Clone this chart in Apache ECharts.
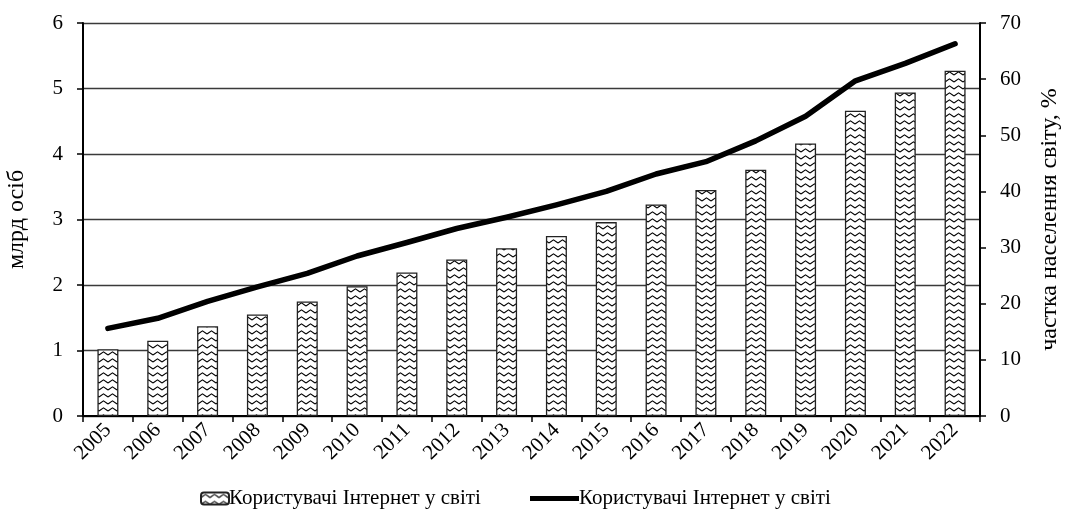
<!DOCTYPE html>
<html>
<head>
<meta charset="utf-8">
<script src="https://cdn.jsdelivr.net/npm/echarts@6/dist/echarts.min.js"></script>
<style>
html,body{margin:0;padding:0;background:#fff;}
#chart{width:1067px;height:516px;}
</style>
</head>
<body>
<div id="chart"></div>
<script>
const years = ['2005','2006','2007','2008','2009','2010','2011','2012','2013','2014','2015','2016','2017','2018','2019','2020','2021','2022'];
const usersBn = [1.02,1.15,1.37,1.55,1.75,1.98,2.19,2.39,2.56,2.75,2.96,3.23,3.45,3.76,4.16,4.66,4.94,5.27];
const sharePct = [15.6,17.4,20.4,23.0,25.4,28.5,30.9,33.4,35.4,37.6,40.0,43.1,45.3,49.0,53.4,59.7,62.8,66.3];
const leftTicks = [0,1,2,3,4,5,6];
const rightTicks = [0,10,20,30,40,50,60,70];
const seriesLabel = 'Користувачі Інтернет у світі';
const leftTitle = 'млрд осіб';
const rightTitle = 'частка населення світу, %';

function makePattern(){
  const c = document.createElement('canvas');
  c.width = 9; c.height = 7;
  const g = c.getContext('2d');
  g.fillStyle = '#fff'; g.fillRect(0,0,9,7);
  g.strokeStyle = '#000'; g.lineWidth = 1.1;
  g.beginPath();
  g.moveTo(0,5); g.lineTo(4.5,1.8); g.lineTo(9,5);
  g.stroke();
  return c;
}
const pattern = {image: makePattern(), repeat: 'repeat'};
const font = 'Liberation Serif, Times New Roman, serif';

const chart = echarts.init(document.getElementById('chart'));
chart.setOption({
  animation: false,
  backgroundColor: '#fff',
  textStyle: {fontFamily: font, color: '#000'},
  grid: {left: 83, right: 87, top: 23, bottom: 100, containLabel: false, outerBoundsMode: 'none'},
  legend: [
    {data: [seriesLabel], left: 195, top: 483, itemWidth: 28, itemHeight: 12, itemGap: 0,
     textStyle: {fontFamily: font, fontSize: 21, color: '#000', padding: [0,0,0,-5]}},
    {data: [seriesLabel + ' '], left: 525, top: 483, itemWidth: 49, itemHeight: 5, icon: 'rect',
     itemStyle: {color: '#000'},
     formatter: function(n){ return n.trim(); },
     textStyle: {fontFamily: font, fontSize: 21, color: '#000', padding: [0,0,0,-5]}}
  ],
  xAxis: {
    type: 'category', data: years, boundaryGap: true,
    axisLine: {lineStyle: {color: '#000', width: 2}},
    axisTick: {show: true, length: 6, alignWithLabel: false, lineStyle: {color: '#000', width: 1.5}},
    axisLabel: {rotate: 45, interval: 0, fontFamily: font, fontSize: 21, color: '#000', margin: 11},
    splitLine: {show: false}
  },
  yAxis: [
    {type: 'value', min: 0, max: 6, interval: 1,
     name: leftTitle, nameLocation: 'middle', nameRotate: 90, nameGap: 54,
     nameTextStyle: {fontFamily: font, fontSize: 24, color: '#000'},
     axisLine: {show: true, lineStyle: {color: '#000', width: 2}},
     axisTick: {show: true, length: 6, lineStyle: {color: '#000', width: 1.5}},
     axisLabel: {fontFamily: font, fontSize: 21, color: '#000', margin: 20,
       formatter: function(v){ return leftTicks.indexOf(v) >= 0 ? String(v) : ''; }},
     splitLine: {show: true, lineStyle: {color: '#3a3a3a', width: 1.4}}
    },
    {type: 'value', min: 0, max: 70, interval: 10, position: 'right',
     name: rightTitle, nameLocation: 'middle', nameRotate: 90, nameGap: 58,
     nameTextStyle: {fontFamily: font, fontSize: 24, color: '#000'},
     axisLine: {show: true, lineStyle: {color: '#000', width: 2}},
     axisTick: {show: true, length: 6, lineStyle: {color: '#000', width: 1.5}},
     axisLabel: {fontFamily: font, fontSize: 21, color: '#000', margin: 20,
       formatter: function(v){ return rightTicks.indexOf(v) >= 0 ? String(v) : ''; }},
     splitLine: {show: false}
    }
  ],
  series: [
    {name: seriesLabel, type: 'bar', data: usersBn, yAxisIndex: 0, barWidth: 21,
     itemStyle: {color: pattern, borderColor: '#222', borderWidth: 1.3}, z: 2},
    {name: seriesLabel + ' ', type: 'line', data: sharePct, yAxisIndex: 1,
     symbol: 'none', lineStyle: {color: '#000', width: 5.5, cap: 'round', join: 'round'},
     itemStyle: {color: '#000'}, z: 3}
  ]
});
</script>
</body>
</html>
